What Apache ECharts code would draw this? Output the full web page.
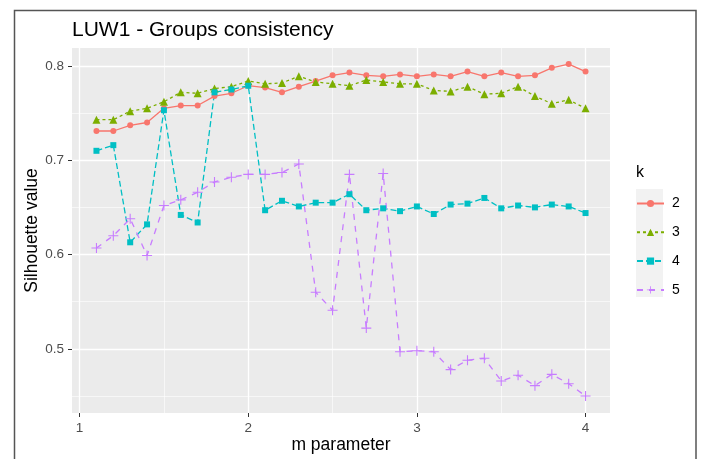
<!DOCTYPE html>
<html>
<head>
<meta charset="utf-8">
<script src="https://cdn.jsdelivr.net/npm/echarts@6/dist/echarts.min.js"></script>
<style>
  html, body { margin: 0; padding: 0; background: #ffffff; }
  #chart { width: 702px; height: 459px; }
</style>
</head>
<body>
<div id="chart"></div>
<script>
// m parameter values (x)
const mParam = [1.1, 1.2, 1.3, 1.4, 1.5, 1.6, 1.7, 1.8, 1.9, 2.0,
                2.1, 2.2, 2.3, 2.4, 2.5, 2.6, 2.7, 2.8, 2.9, 3.0,
                3.1, 3.2, 3.3, 3.4, 3.5, 3.6, 3.7, 3.8, 3.9, 4.0];

// Silhouette values per number of groups k
const silK2 = [0.731, 0.731, 0.737, 0.740, 0.755, 0.758, 0.758, 0.768, 0.771, 0.779,
               0.777, 0.772, 0.778, 0.784, 0.790, 0.793, 0.790, 0.789, 0.791, 0.789,
               0.791, 0.789, 0.794, 0.789, 0.793, 0.789, 0.790, 0.798, 0.802, 0.794];
const silK3 = [0.743, 0.743, 0.752, 0.755, 0.762, 0.772, 0.771, 0.776, 0.778, 0.784,
               0.781, 0.782, 0.789, 0.783, 0.781, 0.779, 0.785, 0.783, 0.781, 0.781,
               0.774, 0.773, 0.778, 0.770, 0.771, 0.778, 0.768, 0.760, 0.764, 0.755];
const silK4 = [0.710, 0.716, 0.613, 0.632, 0.753, 0.642, 0.634, 0.772, 0.775, 0.779,
               0.647, 0.657, 0.651, 0.655, 0.655, 0.664, 0.647, 0.649, 0.646, 0.651,
               0.643, 0.653, 0.654, 0.660, 0.649, 0.652, 0.650, 0.653, 0.651, 0.644];
const silK5 = [0.607, 0.620, 0.638, 0.599, 0.652, 0.658, 0.666, 0.677, 0.682, 0.685,
               0.685, 0.687, 0.696, 0.560, 0.541, 0.685, 0.522, 0.686, 0.497, 0.498,
               0.497, 0.478, 0.488, 0.490, 0.466, 0.472, 0.461, 0.473, 0.463, 0.450];

const groupNames = ['2', '3', '4', '5'];
const xMajor = [1, 2, 3, 4];
const xMinor = [1.5, 2.5, 3.5];
const yMajor = [0.5, 0.6, 0.7, 0.8];
const yMinor = [0.45, 0.55, 0.65, 0.75];

const colors = ['#F8766D', '#7CAE00', '#00BFC4', '#C77CFF'];
const plusPath = 'path://M4.45,0H5.55V10H4.45Z M0,4.45H10V5.55H0Z';
const symbols = ['circle', 'triangle', 'rect', plusPath];
const symbolSizes = [6, 8, 6, 10];
const dashes = ['solid', [3, 3], [6, 3], [6, 6]];
const values = [silK2, silK3, silK4, silK5];

const font = '"Liberation Sans", Arial, sans-serif';
const xRange = [0.955, 4.145];
const yRange = [0.432, 0.819];

const chart = echarts.init(document.getElementById('chart'), null, { renderer: 'canvas' });

const series = groupNames.map((name, i) => ({
  name: name,
  type: 'line',
  xAxisIndex: 0,
  yAxisIndex: 0,
  data: mParam.map((m, j) => [m, values[i][j]]),
  symbol: symbols[i],
  symbolSize: symbolSizes[i],
  showSymbol: true,
  animation: false,
  color: colors[i],
  lineStyle: { color: colors[i], width: 1.3, type: dashes[i] },
  itemStyle: { color: colors[i], borderWidth: 0 },
  emphasis: { disabled: true }
}));

const axisLabelStyle = { color: '#4D4D4D', fontSize: 13.5, fontFamily: font };
const axisTitleStyle = { color: '#000000', fontSize: 17.5, fontFamily: font };

const option = {
  backgroundColor: '#ffffff',
  animation: false,
  title: {
    text: 'LUW1 - Groups consistency',
    left: 67,
    top: 15,
    textStyle: { color: '#000000', fontSize: 21, fontWeight: 'normal', fontFamily: font }
  },
  grid: {
    left: 72, top: 48, right: 92, bottom: 46,
    show: true, backgroundColor: '#EBEBEB', borderWidth: 0
  },
  legend: {
    orient: 'vertical',
    left: 636,
    top: 196.5,
    padding: 0,
    itemWidth: 27,
    itemHeight: 9,
    itemGap: 14.8,
    data: groupNames,
    textStyle: { color: '#000000', fontSize: 14, fontFamily: font, padding: [0, 0, 0, 3] },
    selectedMode: false
  },
  xAxis: [
    {
      type: 'value', min: xRange[0], max: xRange[1],
      name: 'm parameter', nameLocation: 'middle', nameGap: 23, nameMoveOverlap: false,
      nameTextStyle: axisTitleStyle,
      axisLine: { show: false },
      axisTick: { show: true, length: 4, lineStyle: { color: '#333333', width: 1 }, customValues: xMajor },
      axisLabel: Object.assign({ margin: 8, customValues: xMajor, formatter: v => String(v) }, axisLabelStyle),
      splitLine: { show: true, lineStyle: { color: '#FFFFFF', width: 1.3 } }
    },
    {
      type: 'value', min: xRange[0], max: xRange[1], position: 'top',
      axisLine: { show: false },
      axisTick: { show: false, customValues: xMinor },
      axisLabel: { show: false, customValues: xMinor },
      splitLine: { show: true, lineStyle: { color: '#FFFFFF', width: 0.6 } }
    }
  ],
  yAxis: [
    {
      type: 'value', min: yRange[0], max: yRange[1],
      name: 'Silhouette value', nameLocation: 'middle', nameGap: 31, nameMoveOverlap: false,
      nameTextStyle: axisTitleStyle,
      axisLine: { show: false },
      axisTick: { show: true, length: 4, lineStyle: { color: '#333333', width: 1 }, customValues: yMajor },
      axisLabel: Object.assign({ margin: 8, customValues: yMajor, formatter: v => v.toFixed(1) }, axisLabelStyle),
      splitLine: { show: true, lineStyle: { color: '#FFFFFF', width: 1.3 } }
    },
    {
      type: 'value', min: yRange[0], max: yRange[1], position: 'right',
      axisLine: { show: false },
      axisTick: { show: false, customValues: yMinor },
      axisLabel: { show: false, customValues: yMinor },
      splitLine: { show: true, lineStyle: { color: '#FFFFFF', width: 0.6 } }
    }
  ],
  graphic: [
    {
      type: 'rect', z: -1, silent: true,
      shape: { x: 14.5, y: 10.5, width: 681.5, height: 470 },
      style: { fill: null, stroke: '#555555', lineWidth: 1.5 }
    },
    {
      type: 'rect', z: 1, silent: true,
      shape: { x: 636, y: 189, width: 27, height: 108 },
      style: { fill: '#F2F2F2' }
    },
    {
      type: 'text', z: 5, silent: true,
      x: 636, y: 165,
      style: { text: 'k', fill: '#000000', fontSize: 16, fontFamily: font }
    }
  ],
  series: series
};

chart.setOption(option);
</script>
</body>
</html>
